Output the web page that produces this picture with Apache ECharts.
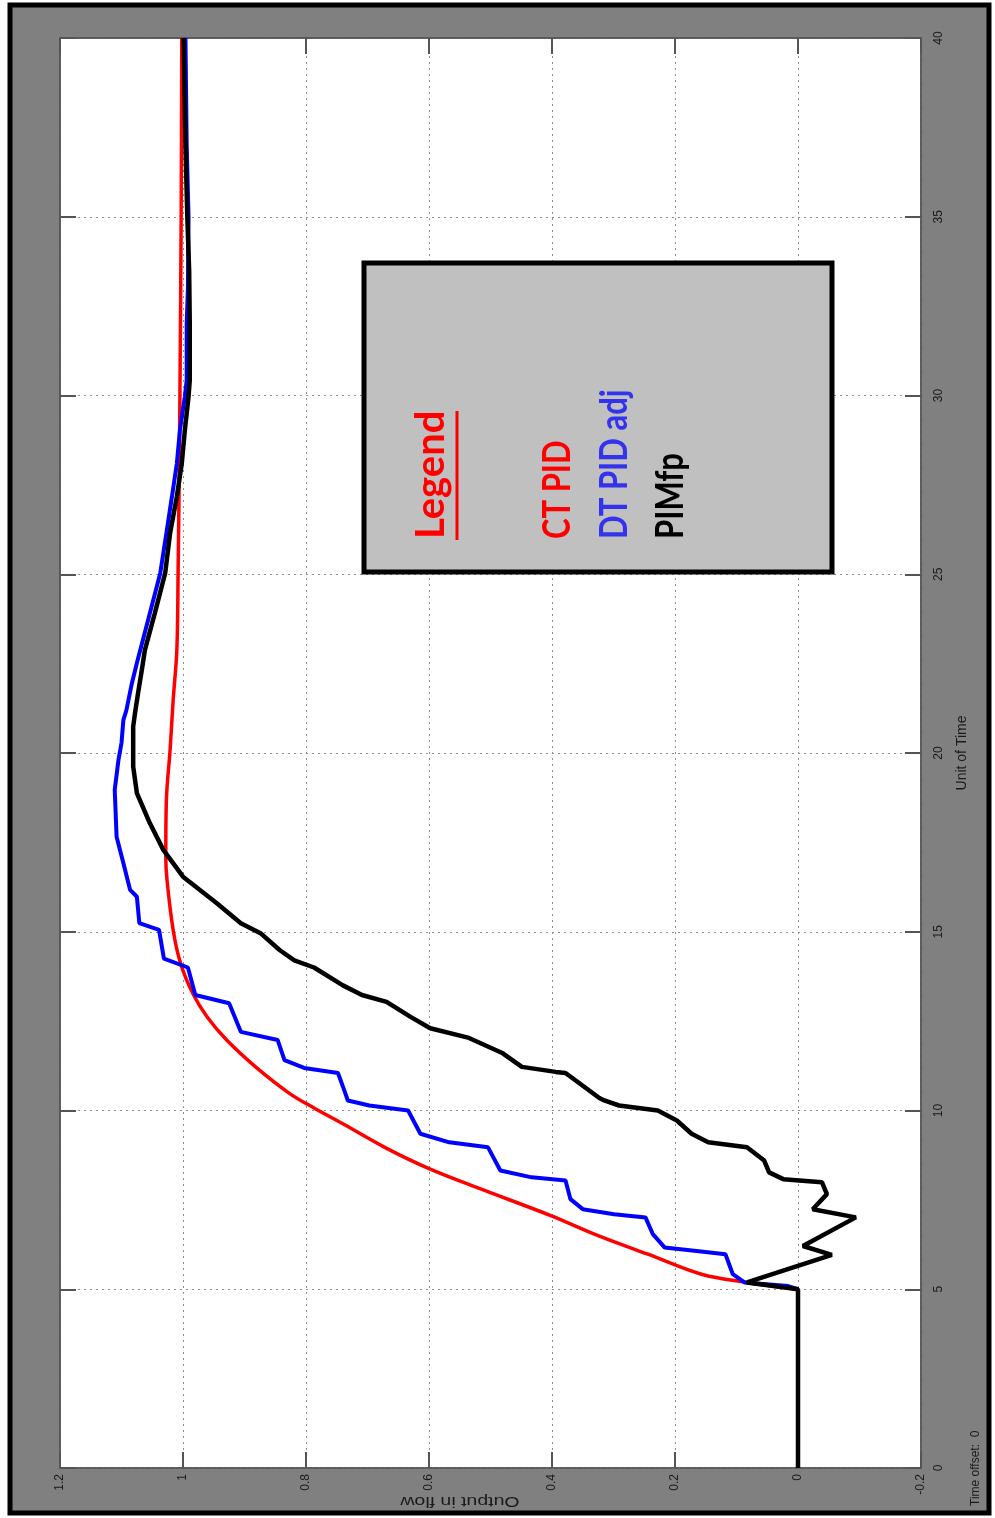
<!DOCTYPE html>
<html>
<head>
<meta charset="utf-8">
<script src="https://cdn.jsdelivr.net/npm/echarts@6/dist/echarts.min.js"></script>
<style>
html,body{margin:0;padding:0;background:#fff;}
#chart{width:995px;height:1518px;}
</style>
</head>
<body>
<div id="chart"></div>
<script>
// ---- data (time in "Unit of Time", output in flow) ----
var seriesNames = ['CT PID', 'DT PID adj', 'PIMfp'];

var ctTime = [5.0, 5.19, 5.42, 5.98, 6.5, 7.06, 7.8, 8.36, 8.97, 9.63, 10.07, 10.48, 11.22, 11.97, 12.62, 13.27, 14.12, 15.05, 16.45, 17.1, 18.69, 20.08, 21.48, 22.88, 25, 28, 30, 35, 40];
var ctOut  = [0, 0.083, 0.157, 0.244, 0.325, 0.402, 0.515, 0.598, 0.672, 0.740, 0.787, 0.827, 0.882, 0.929, 0.961, 0.984, 1.004, 1.016, 1.026, 1.028, 1.027, 1.021, 1.016, 1.010, 1.008, 1.006, 1.005, 1.003, 1.002];

var dtTime = [5.0, 5.09, 5.19, 5.42, 5.98, 6.07, 6.17, 6.54, 7.01, 7.10, 7.24, 7.52, 8.04, 8.13, 8.32, 8.97, 9.11, 9.35, 10.0, 10.14, 10.28, 10.48, 11.05, 11.19, 11.41, 11.97, 12.2, 13.0, 13.23, 14.0, 14.25, 15.05, 15.24, 15.98, 16.17, 16.92, 17.66, 18.97, 19.8, 20.28, 20.92, 21.2, 21.96, 22.52, 23.9, 25.03, 26.15, 27.17, 28.1, 29.03, 29.97, 30.43, 32, 33, 35, 37, 40];
var dtOut  = [0, 0.016, 0.087, 0.106, 0.118, 0.165, 0.217, 0.236, 0.248, 0.299, 0.350, 0.370, 0.378, 0.433, 0.484, 0.504, 0.567, 0.614, 0.634, 0.697, 0.732, 0.736, 0.748, 0.803, 0.835, 0.846, 0.906, 0.925, 0.980, 0.992, 1.031, 1.039, 1.071, 1.075, 1.086, 1.097, 1.108, 1.111, 1.105, 1.100, 1.097, 1.092, 1.083, 1.075, 1.054, 1.037, 1.027, 1.018, 1.010, 1.005, 0.997, 0.994, 0.994, 0.992, 0.991, 0.994, 0.996];

var pimTime = [0, 5.0, 5.19, 5.96, 6.21, 7.01, 7.24, 7.66, 7.99, 8.08, 8.27, 8.6, 8.97, 9.11, 9.35, 9.72, 10.0, 10.14, 10.28, 10.35, 11.05, 11.08, 11.22, 11.6, 12.03, 12.3, 12.62, 13.04, 13.23, 13.5, 14.0, 14.2, 14.49, 14.96, 15.24, 15.8, 16.54, 17.29, 18.04, 18.88, 19.62, 20.74, 21.12, 21.68, 22.32, 22.88, 23.9, 25.03, 26.15, 27.17, 28.1, 29.03, 29.97, 30.43, 32, 33.5, 35, 37, 40];
var pimOut  = [0, 0, 0.083, -0.055, -0.008, -0.094, -0.024, -0.047, -0.039, 0.024, 0.047, 0.055, 0.083, 0.146, 0.173, 0.197, 0.228, 0.291, 0.315, 0.323, 0.378, 0.394, 0.449, 0.480, 0.535, 0.598, 0.630, 0.669, 0.709, 0.740, 0.787, 0.819, 0.843, 0.874, 0.906, 0.945, 1.0, 1.032, 1.054, 1.075, 1.081, 1.081, 1.078, 1.073, 1.067, 1.062, 1.046, 1.029, 1.021, 1.010, 1.002, 0.997, 0.991, 0.989, 0.989, 0.990, 0.993, 0.996, 0.999];

var seriesColors = ['#ff0000', '#0000ff', '#000000'];

function pairs(tArr, vArr) {
  var out = [];
  for (var i = 0; i < tArr.length; i++) out.push([vArr[i], tArr[i]]);
  return out;
}

var chart = echarts.init(document.getElementById('chart'), null, {renderer: 'canvas'});

var labelFont = 'Liberation Sans';
var gridLine = {show: true, lineStyle: {color: '#8c8c8c', type: [2, 4], width: 1}};
var tickStyle = {show: true, inside: true, length: 16, lineStyle: {color: '#555', width: 2}};
var axisLineStyle = {show: true, onZero: false, lineStyle: {color: '#555', width: 1.5}};
function fmt(v) { return String(+(+v).toFixed(1)); }

var option = {
  backgroundColor: '#ffffff',
  animation: false,
  grid: {left: 60, right: 74, top: 38, bottom: 50, show: true, backgroundColor: '#ffffff', borderColor: '#555', borderWidth: 1.5},
  xAxis: [{
    type: 'value', min: -0.2, max: 1.2, interval: 0.2, inverse: true, position: 'bottom', z: 3,
    axisLine: axisLineStyle, axisTick: tickStyle, splitLine: gridLine,
    axisLabel: {rotate: 90, fontSize: 12, color: '#1a1a1a', fontFamily: labelFont, margin: 6, formatter: fmt}
  }, {
    type: 'value', min: -0.2, max: 1.2, interval: 0.2, inverse: true, position: 'top', z: 3,
    axisLine: axisLineStyle, axisTick: tickStyle, splitLine: {show: false}, axisLabel: {show: false}
  }],
  yAxis: [{
    type: 'value', min: 0, max: 40, interval: 5, position: 'right', z: 3,
    name: 'Unit of Time', nameLocation: 'middle', nameRotate: 90, nameGap: 34,
    nameTextStyle: {fontSize: 14, color: '#1a1a1a', fontFamily: labelFont},
    axisLine: axisLineStyle, axisTick: tickStyle, splitLine: gridLine,
    axisLabel: {rotate: 90, fontSize: 12, color: '#1a1a1a', fontFamily: labelFont, margin: 12, formatter: fmt}
  }, {
    type: 'value', min: 0, max: 40, interval: 5, position: 'left', z: 3,
    axisLine: axisLineStyle, axisTick: tickStyle, splitLine: {show: false}, axisLabel: {show: false}
  }],
  series: [
    {name: seriesNames[0], type: 'line', showSymbol: false, smooth: 0.35, data: pairs(ctTime, ctOut), lineStyle: {color: seriesColors[0], width: 3.5}, itemStyle: {color: seriesColors[0]}, z: 5},
    {name: seriesNames[1], type: 'line', showSymbol: false, data: pairs(dtTime, dtOut), lineStyle: {color: seriesColors[1], width: 4}, itemStyle: {color: seriesColors[1]}, z: 6},
    {name: seriesNames[2], type: 'line', showSymbol: false, data: pairs(pimTime, pimOut), lineStyle: {color: seriesColors[2], width: 4.5}, itemStyle: {color: seriesColors[2]}, z: 7}
  ],
  graphic: {elements: [
    {type: 'rect', z: -100, silent: true, shape: {x: 10, y: 5, width: 979, height: 1508}, style: {fill: '#808080', stroke: '#000', lineWidth: 5}},
    {type: 'text', z: 10, x: 460, y: 1501, rotation: Math.PI, scaleX: 1.3, silent: true,
      style: {text: 'Output in flow', fontSize: 15, fill: '#1a1a1a', fontFamily: labelFont, align: 'center', verticalAlign: 'middle'}},
    {type: 'text', z: 10, x: 976, y: 1506, rotation: Math.PI / 2, silent: true,
      style: {text: 'Time offset:  0', fontSize: 12, fill: '#1a1a1a', fontFamily: labelFont, align: 'left', verticalAlign: 'middle'}},
    {type: 'rect', z: 100, silent: true, shape: {x: 364, y: 263, width: 468, height: 309}, style: {fill: '#c0c0c0', stroke: '#000', lineWidth: 5}},
    {type: 'text', z: 101, x: 431, y: 539, rotation: Math.PI / 2, silent: true,
      style: {text: 'Legend', fontSize: 40, fontWeight: 'bold', fill: '#ff0000', fontFamily: 'Lato', align: 'left', verticalAlign: 'middle'}},
    {type: 'line', z: 101, silent: true, shape: {x1: 457, y1: 540, x2: 457, y2: 411}, style: {stroke: '#ff0000', lineWidth: 3}},
    {type: 'text', z: 101, x: 558, y: 539, rotation: Math.PI / 2, scaleY: 1.2, silent: true,
      style: {text: seriesNames[0], fontSize: 31, fontWeight: 'bold', fill: seriesColors[0], fontFamily: 'Lato', align: 'left', verticalAlign: 'middle'}},
    {type: 'text', z: 101, x: 615, y: 539, rotation: Math.PI / 2, scaleY: 1.2, silent: true,
      style: {text: seriesNames[1], fontSize: 31, fontWeight: 'bold', fill: '#3333ee', fontFamily: 'Lato', align: 'left', verticalAlign: 'middle'}},
    {type: 'text', z: 101, x: 671, y: 539, rotation: Math.PI / 2, scaleY: 1.2, silent: true,
      style: {text: seriesNames[2], fontSize: 31, fontWeight: 'bold', fill: seriesColors[2], fontFamily: 'Lato', align: 'left', verticalAlign: 'middle'}}
  ]}
};
chart.setOption(option);
</script>
</body>
</html>
